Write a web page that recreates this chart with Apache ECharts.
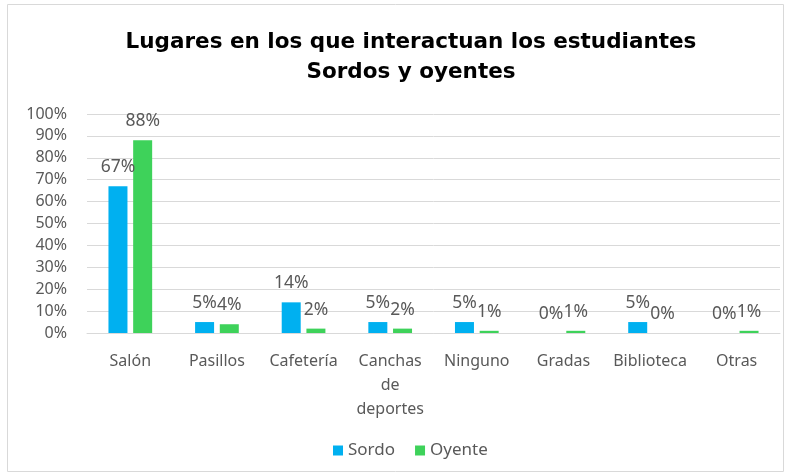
<!DOCTYPE html>
<html>
<head>
<meta charset="utf-8">
<script src="https://cdn.jsdelivr.net/npm/echarts@6/dist/echarts.min.js"></script>
<style>
  html, body { margin: 0; padding: 0; background: #fff; }
  #chart { width: 792px; height: 475px; }
</style>
</head>
<body>
<div id="chart"></div>
<script>
// Lugares donde interactuan los estudiantes (porcentaje)
const lugares = ['Salón', 'Pasillos', 'Cafetería', 'Canchas\nde\ndeportes', 'Ninguno', 'Gradas', 'Biblioteca', 'Otras'];
const sordo = [67, 5, 14, 5, 5, 0, 5, 0];
const oyente = [88, 4, 2, 2, 1, 1, 0, 1];
const yTicks = [0, 10, 20, 30, 40, 50, 60, 70, 80, 90, 100];

const gris = '#595959';
const fuente = 'Noto Sans';

let myChart = echarts.init(document.getElementById('chart'));

const etiqueta = {
  show: true,
  position: 'top',
  distance: 10,
  color: gris,
  fontFamily: fuente,
  fontSize: 17.5,
  formatter: (p) => p.value + '%',
};

let option = {
  animation: false,
  title: {
    text: 'Lugares en los que interactuan los estudiantes\nSordos y oyentes',
    left: 406, // centro del titulo
    top: 22,
    textAlign: 'center',
    textStyle: {
      fontFamily: 'DejaVu Sans',
      fontWeight: 'bold',
      fontSize: 21.5,
      lineHeight: 30,
      color: '#000',
    },
  },
  graphic: [{
    type: 'rect',
    shape: { x: 7.5, y: 4.5, width: 776, height: 467 },
    style: { fill: 'none', stroke: '#d9d9d9', lineWidth: 1 },
    silent: true,
  }],
  legend: {
    data: ['Sordo', 'Oyente'],
    bottom: 11,
    left: 328,
    icon: 'rect',
    itemWidth: 10,
    itemHeight: 10,
    itemGap: 20,
    textStyle: { color: gris, fontFamily: fuente, fontSize: 17 },
  },
  grid: { left: 87, right: 12, top: 114, bottom: 142 },
  xAxis: {
    type: 'category',
    data: lugares,
    axisLine: { lineStyle: { color: '#d9d9d9' } },
    axisTick: { show: false },
    axisLabel: {
      color: gris,
      fontFamily: fuente,
      fontSize: 16,
      lineHeight: 24,
      margin: 16,
      interval: 0,
    },
  },
  yAxis: {
    type: 'value',
    min: yTicks[0],
    max: yTicks[yTicks.length - 1],
    interval: 10,
    axisLine: { show: false },
    axisTick: { show: false },
    splitLine: { lineStyle: { color: '#d9d9d9' } },
    axisLabel: {
      color: gris,
      fontFamily: fuente,
      fontSize: 16,
      margin: 20,
      formatter: (v) => v + '%',
    },
  },
  series: [
    {
      name: 'Sordo',
      type: 'bar',
      data: sordo,
      barWidth: 19,
      barGap: '30%',
      itemStyle: { color: '#00B0F0' },
      label: etiqueta,
    },
    {
      name: 'Oyente',
      type: 'bar',
      data: oyente,
      barWidth: 19,
      itemStyle: { color: '#3ED25A' },
      label: etiqueta,
    },
  ],
};

myChart.setOption(option);
</script>
</body>
</html>
